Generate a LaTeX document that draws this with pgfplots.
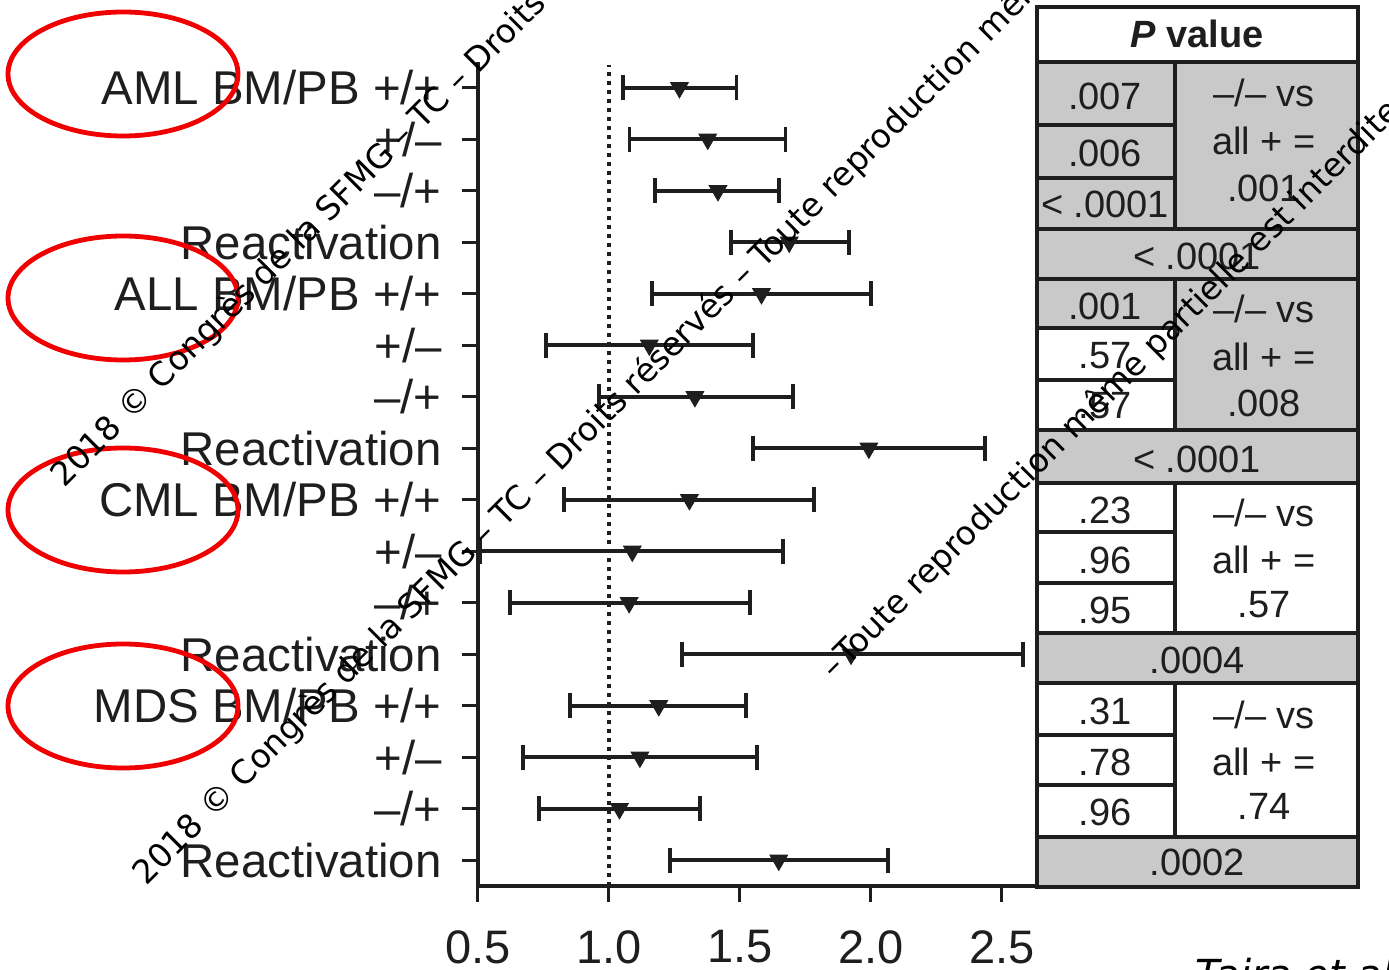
\documentclass[border=0pt]{standalone}
\usepackage{pgfplots}
\pgfplotsset{compat=1.18}
\usepackage{pgfplotstable}
\usepackage{fontspec}
\setmainfont{Liberation Sans}
\newfontfamily\wmfont{DejaVu Sans}
\definecolor{ink}{HTML}{1E1E1E}
\definecolor{cellgray}{HTML}{C9C9C9}
\definecolor{circ}{HTML}{F00000}

% r = row (1 = bottom), m = estimate, lo/hi = interval ends
\pgfplotstableread{
r m lo hi
16 1.269 1.053 1.487
15 1.377 1.078 1.674
14 1.416 1.176 1.648
13 1.688 1.466 1.917
12 1.582 1.164 1.999
11 1.154 0.759 1.551
10 1.328 0.961 1.702
9 1.992 1.551 2.434
8 1.307 0.827 1.783
7 1.089 0.509 1.663
6 1.077 0.622 1.537
5 1.924 1.279 2.580
4 1.190 0.851 1.523
3 1.118 0.671 1.564
2 1.040 0.732 1.346
1 1.648 1.232 2.066
}\forestdata

\begin{document}
\begin{tikzpicture}
\begin{axis}[
  scale only axis,
  width=278.5pt, height=412pt,
  xmin=0.5, xmax=2.626, ymin=0.5, ymax=16.5,
  axis x line=bottom, axis y line=left,
  axis line style={line width=1.8pt, color=ink, -},
  xtick={0.5,1.0,1.5,2.0,2.5},
  xticklabels={0.5,1.0,1.5,2.0,2.5},
  ytick={1,2,3,4,5,6,7,8,9,10,11,12,13,14,15,16},
  yticklabels={Reactivation,–/+,+/–,MDS BM/PB +/+,Reactivation,–/+,+/–,CML BM/PB +/+,Reactivation,–/+,+/–,ALL BM/PB +/+,Reactivation,–/+,+/–,AML BM/PB +/+},
  tick align=outside,
  major tick length=8pt,
  tick style={line width=1.5pt, color=ink},
  yticklabel style={font=\fontsize{23.7}{28}\selectfont, color=ink, anchor=east, inner sep=0pt, xshift=-10pt},
  xticklabel style={font=\fontsize{23.5}{28}\selectfont, color=ink, anchor=north, inner sep=0pt, yshift=-14pt},
  clip=false,
]
\addplot[ink, line width=1.8pt, dash pattern=on 1.8pt off 2.7pt] coordinates {(1,0.5) (1,16.45)};
\addplot[only marks, mark=triangle*, mark size=5pt,
  mark options={rotate=180, fill=ink, draw=ink, line width=0.5pt},
  error bars/.cd, x dir=both, x explicit, error mark=|,
  error bar style={line width=1.9pt, color=ink},
  error mark options={line width=1.9pt, mark size=6.25pt, color=ink}]
  table[x=m, y=r, x error plus expr=\thisrow{hi}-\thisrow{m}, x error minus expr=\thisrow{m}-\thisrow{lo}] {\forestdata};
\end{axis}

% pixel-coordinate scope (origin top-left of the 1389x970 frame)
\begin{scope}[x=0.5pt, y=-0.5pt, shift={(-478,-886)}]
  % P value table
  \fill[cellgray] (1037,62) rectangle (1358,279);
  \fill[cellgray] (1037,279) rectangle (1175,328);
  \fill[cellgray] (1175,279) rectangle (1358,430);
  \fill[cellgray] (1037,430) rectangle (1358,483);
  \fill[cellgray] (1037,633) rectangle (1358,683);
  \fill[cellgray] (1037,837) rectangle (1358,887);
  \begin{scope}[line width=1.8pt, draw=ink]
    \draw (1037,7) rectangle (1358,887);
    \foreach \yy in {62,229,279,430,483,633,683,837} \draw (1037,\yy) -- (1358,\yy);
    \foreach \yy in {125,178,328,380,532,583,735,785} \draw (1037,\yy) -- (1175,\yy);
    \draw (1175,62) -- (1175,229);
    \draw (1175,279) -- (1175,430);
    \draw (1175,483) -- (1175,633);
    \draw (1175,683) -- (1175,837);
  \end{scope}
  \begin{scope}[every node/.style={font=\fontsize{19}{23}\selectfont, text=ink, inner sep=0pt}]
    \node at (1197,34) {\textbf{\textit{P} value}};
    % left cells
    \node at (1105,96) {.007};
    \node at (1105,153) {.006};
    \node at (1105,204) {< .0001};
    \node at (1105,306) {.001};
    \node at (1105,356) {.57};
    \node at (1105,406) {.57};
    \node at (1105,510) {.23};
    \node at (1105,560) {.96};
    \node at (1105,610) {.95};
    \node at (1105,711) {.31};
    \node at (1105,762) {.78};
    \node at (1105,812) {.96};
    % merged full-width cells
    \node at (1197,256) {< .0001};
    \node at (1197,459) {< .0001};
    \node at (1197,660) {.0004};
    \node at (1197,862) {.0002};
    % right blocks
    \node at (1264,93) {–/– vs};  \node at (1264,141) {all + =}; \node at (1264,188) {.001};
    \node at (1264,309) {–/– vs}; \node at (1264,357) {all + =}; \node at (1264,403) {.008};
    \node at (1264,513) {–/– vs}; \node at (1264,560) {all + =}; \node at (1264,605) {.57};
    \node at (1264,715) {–/– vs}; \node at (1264,762) {all + =}; \node at (1264,806) {.74};
  \end{scope}
  % red ellipses
  \begin{scope}[draw=circ, line width=2.4pt]
    \draw (123,74) ellipse [x radius=115, y radius=62];
    \draw (123,298) ellipse [x radius=115, y radius=62];
    \draw (123,510) ellipse [x radius=115, y radius=62];
    \draw (123,706) ellipse [x radius=115, y radius=62];
  \end{scope}
  % watermark
  \begin{scope}[every node/.style={font=\wmfont\fontsize{16.5}{20}\selectfont, text=black, rotate=45, anchor=base west, inner sep=0pt}]
    \node at (64,489) {2018 © Congrès de la SFMG – TC – Droits réservés – Toute reproduction même partielle est interdite};
    \node at (146,887) {2018 © Congrès de la SFMG – TC – Droits réservés – Toute reproduction même partielle est interdite};
    \node at (834,681) {–\hspace{0.1em}Toute reproduction même partielle est interdite};
  \end{scope}
  \node[font=\wmfont\itshape\fontsize{20}{24}\selectfont, anchor=base west, inner sep=0pt] at (1195,989) {Taira et al};
  \pgfresetboundingbox
  \path[use as bounding box] (0,0) rectangle (1389,970);
\end{scope}
\end{tikzpicture}
\end{document}
